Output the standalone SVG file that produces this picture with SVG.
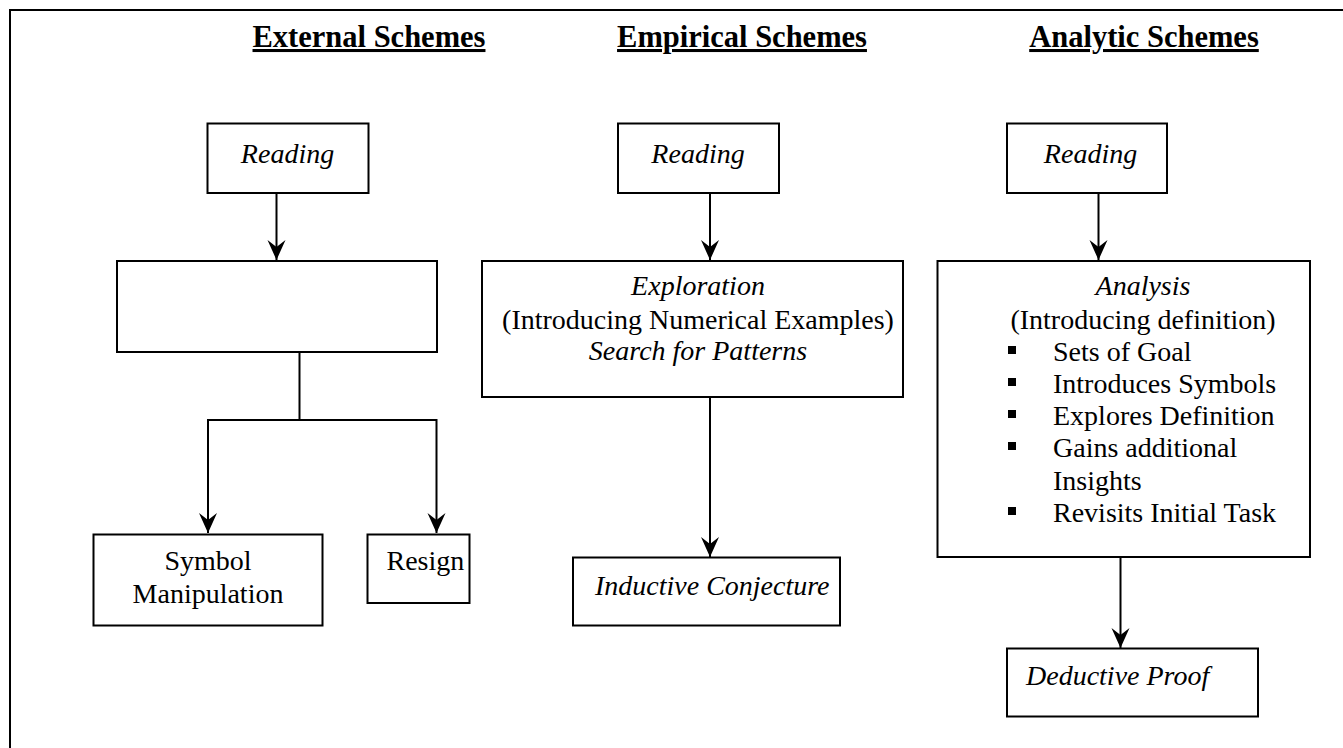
<svg xmlns="http://www.w3.org/2000/svg" width="1343" height="748" viewBox="0 0 1343 748">
<style>
.box{fill:#fff;stroke:#000;stroke-width:2}
.ln{fill:none;stroke:#000;stroke-width:2}
.t{font-family:"Liberation Serif","Times New Roman",serif;font-size:28px;fill:#000}
.i{font-style:italic}
.h{font-family:"Liberation Serif","Times New Roman",serif;font-size:30.5px;font-weight:bold;fill:#000;text-decoration:underline}
</style>
<defs>
<marker id="a" viewBox="-10 -20 20 20" refX="0" refY="0" markerWidth="20" markerHeight="20" markerUnits="userSpaceOnUse" orient="0">
<path d="M-9,-20 L0,-13 L9,-20 L0,0 Z" fill="#000"/>
</marker>
</defs>
<rect width="1343" height="748" fill="#fff"/>
<path class="ln" d="M10,748 V10 H1343" stroke-width="2.5"/>
<g id="titles">
<text class="h" x="369" y="47" text-anchor="middle">External Schemes</text>
<text class="h" x="742" y="47" text-anchor="middle">Empirical Schemes</text>
<text class="h" x="1144" y="47" text-anchor="middle">Analytic Schemes</text>
</g>
<g id="connectors">
<path class="ln" d="M276.5,193 V260" marker-end="url(#a)"/>
<path class="ln" d="M299.5,352 V420"/>
<path class="ln" d="M208,533 V420 H436.5 V533" marker-start="url(#a)" marker-end="url(#a)"/>
<path class="ln" d="M710,193 V260" marker-end="url(#a)"/>
<path class="ln" d="M710,397 V557" marker-end="url(#a)"/>
<path class="ln" d="M1098.5,193 V260" marker-end="url(#a)"/>
<path class="ln" d="M1120.5,557 V648" marker-end="url(#a)"/>
</g>
<g id="ext-reading">
<rect class="box" x="207.5" y="123.5" width="161" height="69.5"/>
<text class="t i" x="287.5" y="163" text-anchor="middle" font-size="30.5">Reading</text>
</g>
<g id="ext-empty">
<rect class="box" x="117" y="261" width="320" height="91"/>
</g>
<g id="symbol-manipulation">
<rect class="box" x="93.5" y="534.5" width="229" height="91"/>
<text class="t" x="208" y="570" text-anchor="middle">Symbol</text>
<text class="t" x="208" y="602.5" text-anchor="middle">Manipulation</text>
</g>
<g id="resign">
<rect class="box" x="367.5" y="534.5" width="102" height="68.5"/>
<text class="t" x="386.5" y="570">Resign</text>
</g>
<g id="emp-reading">
<rect class="box" x="618" y="123.5" width="161" height="69.5"/>
<text class="t i" x="698" y="163" text-anchor="middle" font-size="30.5">Reading</text>
</g>
<g id="exploration">
<rect class="box" x="482" y="261" width="421" height="136"/>
<text class="t i" x="698" y="295" text-anchor="middle">Exploration</text>
<text class="t" x="698" y="328.5" text-anchor="middle">(Introducing Numerical Examples)</text>
<text class="t i" x="698" y="360" text-anchor="middle">Search for Patterns</text>
</g>
<g id="inductive">
<rect class="box" x="573" y="557.5" width="267" height="68"/>
<text class="t i" x="595" y="595">Inductive Conjecture</text>
</g>
<g id="ana-reading">
<rect class="box" x="1007" y="123.5" width="160" height="69.5"/>
<text class="t i" x="1090.5" y="163" text-anchor="middle">Reading</text>
</g>
<g id="analysis">
<rect class="box" x="937.5" y="261" width="372.5" height="296"/>
<text class="t i" x="1143" y="295" text-anchor="middle">Analysis</text>
<text class="t" x="1143" y="328.5" text-anchor="middle">(Introducing definition)</text>
<rect x="1008" y="346" width="8" height="8"/>
<text class="t" x="1053" y="360.5">Sets of Goal</text>
<rect x="1008" y="378" width="8" height="8"/>
<text class="t" x="1053" y="393">Introduces Symbols</text>
<rect x="1008" y="410" width="8" height="8"/>
<text class="t" x="1053" y="425">Explores Definition</text>
<rect x="1008" y="442" width="8" height="8"/>
<text class="t" x="1053" y="456.5">Gains additional</text>
<text class="t" x="1053" y="490">Insights</text>
<rect x="1008" y="507" width="8" height="8"/>
<text class="t" x="1053" y="521.5">Revisits Initial Task</text>
</g>
<g id="deductive">
<rect class="box" x="1007" y="648.5" width="251" height="68"/>
<text class="t i" x="1026" y="685">Deductive Proof</text>
</g>
</svg>
